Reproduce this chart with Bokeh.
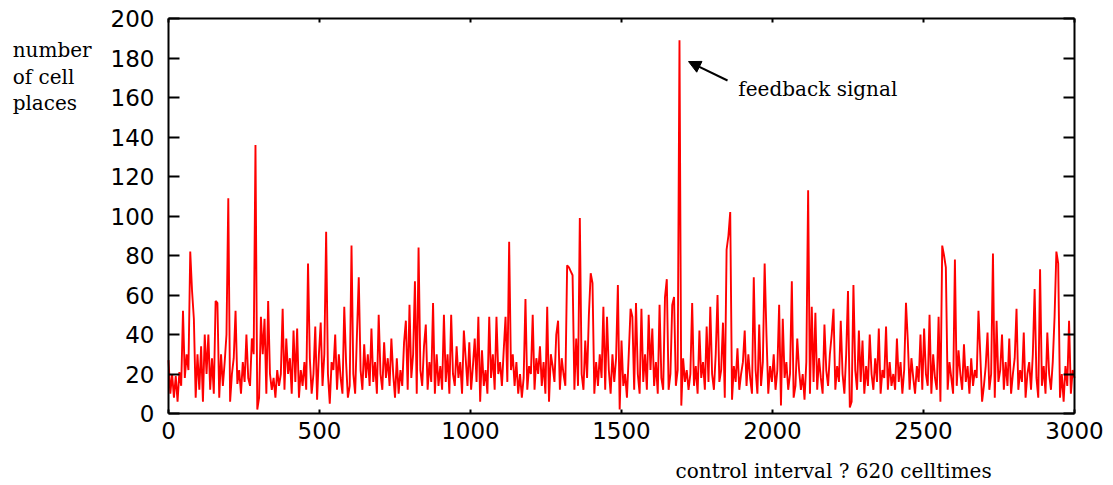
from bokeh.plotting import figure
from bokeh.models import LinearAxis, Range1d, Label, Arrow, NormalHead, FixedTicker
from bokeh.embed import file_html
from bokeh.resources import INLINE

places_0000 = [27, 10, 20, 8, 19, 6, 21, 14, 52, 18, 30, 22, 82, 62, 48, 8, 30, 12, 34, 6, 40, 20, 40, 12, 28]
places_0150 = [10, 57, 56, 8, 30, 14, 26, 40, 109, 6, 20, 28, 52, 15, 22, 10, 26, 16, 40, 18, 14, 38, 30, 136, 2]
places_0300 = [8, 49, 30, 48, 10, 57, 20, 12, 18, 8, 22, 14, 20, 53, 12, 38, 20, 28, 10, 42, 16, 43, 8, 22, 14]
places_0450 = [26, 12, 76, 28, 10, 20, 44, 7, 30, 46, 14, 30, 92, 20, 5, 26, 22, 40, 12, 30, 18, 10, 54, 26, 8]
places_0600 = [14, 85, 20, 10, 40, 69, 22, 12, 35, 18, 30, 14, 43, 16, 26, 10, 50, 20, 12, 36, 18, 28, 14, 38, 20]
places_0750 = [8, 28, 10, 22, 14, 36, 47, 12, 55, 18, 30, 67, 10, 84, 22, 14, 34, 45, 12, 26, 16, 56, 10, 30, 14]
places_0900 = [24, 12, 50, 16, 30, 10, 50, 20, 14, 34, 18, 26, 10, 42, 28, 14, 36, 12, 24, 38, 16, 49, 6, 32, 14]
places_1050 = [22, 10, 49, 18, 30, 12, 49, 20, 26, 14, 32, 49, 16, 87, 22, 30, 14, 26, 10, 20, 8, 18, 58, 12, 24]
places_1200 = [20, 50, 12, 28, 20, 34, 14, 26, 10, 54, 6, 30, 24, 16, 40, 47, 12, 28, 20, 14, 75, 74, 72, 70, 12]
places_1350 = [38, 14, 99, 20, 12, 37, 18, 50, 71, 66, 10, 26, 14, 30, 18, 54, 12, 49, 22, 10, 30, 16, 28, 65, 2]
places_1500 = [37, 14, 20, 8, 30, 53, 49, 12, 56, 20, 10, 53, 16, 30, 12, 50, 22, 43, 14, 26, 10, 55, 18, 12, 59]
places_1650 = [68, 12, 20, 55, 59, 14, 22, 189, 4, 28, 16, 22, 12, 20, 56, 14, 24, 10, 42, 18, 26, 12, 44, 16, 54]
places_1800 = [20, 12, 30, 60, 16, 22, 46, 8, 83, 90, 102, 7, 24, 16, 33, 12, 20, 26, 42, 14, 30, 18, 10, 69, 22]
places_1950 = [10, 45, 14, 26, 76, 40, 10, 24, 16, 30, 12, 22, 55, 4, 48, 18, 26, 12, 20, 67, 8, 14, 38, 22, 12]
places_2100 = [20, 7, 26, 113, 10, 54, 16, 51, 12, 28, 18, 10, 45, 22, 14, 30, 40, 53, 12, 24, 16, 47, 20, 10, 30]
places_2250 = [62, 3, 6, 65, 22, 12, 42, 16, 37, 10, 24, 14, 40, 20, 12, 28, 16, 43, 10, 22, 18, 44, 12, 26, 14]
places_2400 = [20, 12, 38, 16, 26, 10, 22, 56, 37, 12, 28, 18, 10, 24, 16, 40, 12, 43, 20, 14, 50, 10, 30, 18, 12]
places_2550 = [49, 6, 85, 80, 74, 12, 26, 18, 10, 78, 14, 32, 20, 12, 35, 16, 24, 10, 28, 14, 22, 18, 52, 30, 6]
places_2700 = [14, 24, 41, 12, 20, 81, 8, 47, 16, 22, 40, 12, 26, 14, 38, 10, 20, 28, 53, 12, 22, 16, 41, 8, 20]
places_2850 = [26, 12, 30, 63, 18, 8, 73, 14, 24, 10, 41, 20, 12, 26, 49, 82, 76, 8, 20, 6, 24, 14, 47, 10, 22]
places_3000 = [18]

sample_step = 6
x_ticks = [0, 500, 1000, 1500, 2000, 2500, 3000]
y_ticks = [0, 20, 40, 60, 80, 100, 120, 140, 160, 180, 200]

values = (places_0000 + places_0150 + places_0300 + places_0450 + places_0600 +
          places_0750 + places_0900 + places_1050 + places_1200 + places_1350 +
          places_1500 + places_1650 + places_1800 + places_1950 + places_2100 +
          places_2250 + places_2400 + places_2550 + places_2700 + places_2850 +
          places_3000)
xs = [i * sample_step for i in range(len(values))]

# canvas 1113x485; data box 0..3000 spans px 168..1074, 0..200 spans px 413..18
W, H = 1113, 485
left_px, right_px, top_px, bottom_px = 168, 1074, 18, 413
kx = 3000 / (right_px - left_px)
ky = 200 / (bottom_px - top_px)
x_rng = Range1d(-left_px * kx, 3000 + (W - right_px) * kx)
y_rng = Range1d(-(H - bottom_px) * ky, 200 + top_px * ky)

p = figure(width=W, height=H, x_range=x_rng, y_range=y_rng,
           output_backend="svg", toolbar_location=None, min_border=0)
p.xgrid.visible = False
p.ygrid.visible = False
p.outline_line_color = None
p.background_fill_color = "white"
p.border_fill_color = "white"

tick_font = "DejaVu Sans"
xa = p.xaxis[0]
xa.fixed_location = 0
xa.bounds = (0, 3000)
xa.ticker = FixedTicker(ticks=x_ticks)
xa.major_tick_in = 4
xa.major_tick_out = 0
xa.minor_tick_line_color = None
xa.axis_line_width = 2
xa.major_tick_line_width = 2
xa.major_label_text_font = tick_font
xa.major_label_text_font_size = "23px"
xa.major_label_text_color = "black"
xa.major_label_standoff = 8

ya = p.yaxis[0]
ya.fixed_location = 0
ya.bounds = (0, 200)
ya.ticker = FixedTicker(ticks=y_ticks)
ya.major_tick_in = 11
ya.major_tick_out = 0
ya.minor_tick_line_color = None
ya.axis_line_width = 2
ya.major_tick_line_width = 2
ya.major_label_text_font = tick_font
ya.major_label_text_font_size = "23px"
ya.major_label_text_color = "black"
ya.major_label_standoff = 14

top = LinearAxis(ticker=FixedTicker(ticks=x_ticks), fixed_location=200, bounds=(0, 3000),
                 major_tick_in=4, major_tick_out=0,
                 minor_tick_line_color=None, axis_line_width=2, major_tick_line_width=2,
                 major_label_text_color=None, major_label_text_font_size="1px",
                 major_label_standoff=0)
right = LinearAxis(ticker=FixedTicker(ticks=y_ticks), fixed_location=3000, bounds=(0, 200),
                   major_tick_in=11, major_tick_out=0,
                   minor_tick_line_color=None, axis_line_width=2, major_tick_line_width=2,
                   major_label_text_color=None, major_label_text_font_size="1px",
                   major_label_standoff=0)
p.add_layout(top, "above")
p.add_layout(right, "right")

p.line(xs, values, line_color="#ff0000", line_width=1.9)

serif = "DejaVu Serif"
for txt, yy in [("number", 184.3), ("of cell", 170.6), ("places", 157.0)]:
    p.add_layout(Label(x=-516, y=yy, text=txt, text_font=serif, text_font_size="20px",
                       text_color="black", text_baseline="alphabetic", text_align="left"))

p.add_layout(Label(x=1887, y=164.5, text="feedback signal", text_font=serif,
                   text_font_size="20px", text_color="black",
                   text_baseline="alphabetic", text_align="left"))
p.add_layout(Arrow(x_start=1851, y_start=168.6, x_end=1722, y_end=178.2,
                   line_color="black", line_width=2,
                   end=NormalHead(size=12, fill_color="black", line_color="black")))
p.add_layout(Label(x=1679, y=-28.9, text="control interval ? 620 celltimes", text_font=serif,
                   text_font_size="20px", text_color="black",
                   text_baseline="alphabetic", text_align="left"))

open("out.html", "w").write(file_html(p, INLINE))
